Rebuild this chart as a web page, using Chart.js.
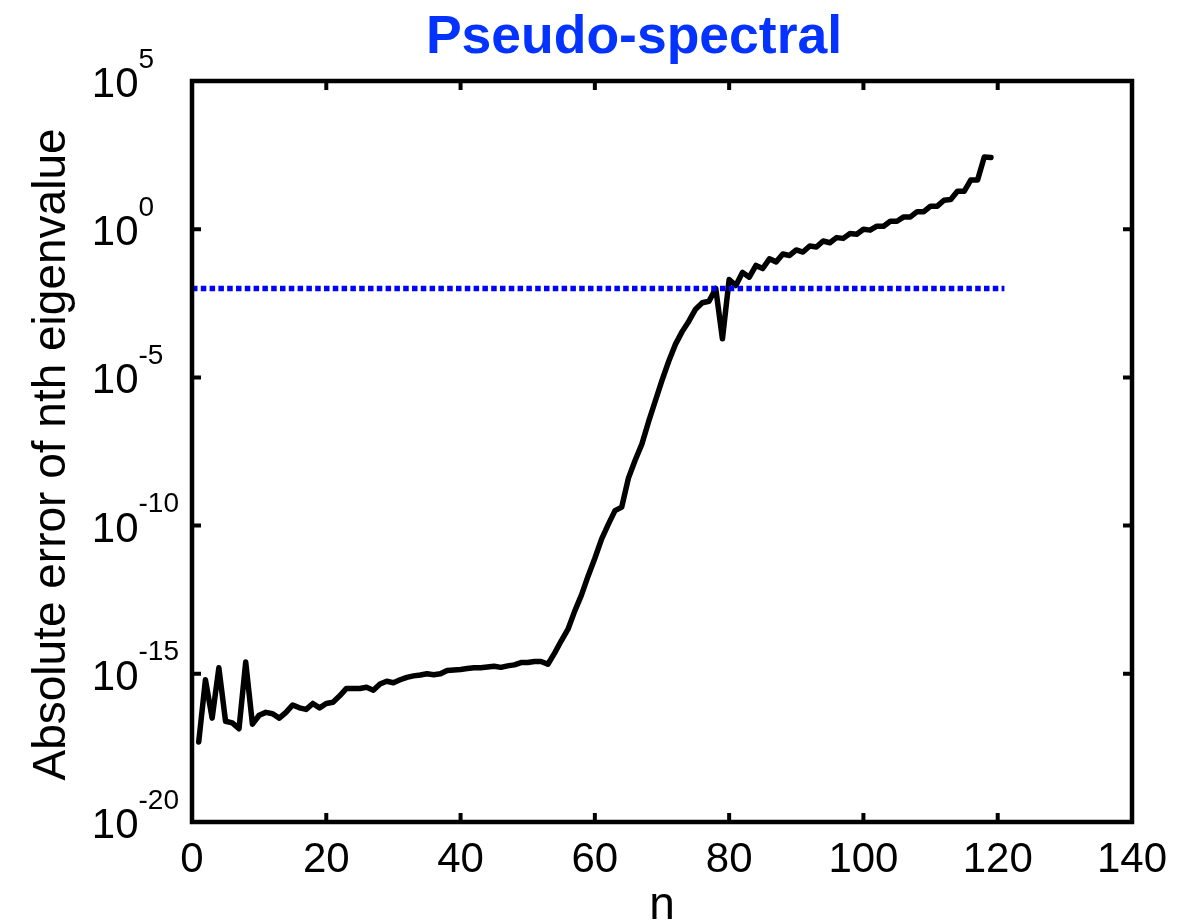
<!DOCTYPE html>
<html>
<head>
<meta charset="utf-8">
<script src="https://cdn.jsdelivr.net/npm/chart.js@4/dist/chart.umd.min.js"></script>
<style>
html,body{margin:0;padding:0;background:#fff;}
#wrap{position:relative;width:1201px;height:923px;}
</style>
</head>
<body>
<div id="wrap"><canvas id="c"></canvas></div>
<script>
// ---- data ----
const titleText = 'Pseudo-spectral';
const xAxisLabel = 'n';
const yAxisLabel = 'Absolute error of nth eigenvalue';
const xTicks = [0, 20, 40, 60, 80, 100, 120, 140];
const yTicks = [1e-20, 1e-15, 1e-10, 1e-5, 1e0, 1e5];
const yTickExponents = ['-20', '-15', '-10', '-5', '0', '5'];
const nValues = Array.from({length: 119}, (_, i) => i + 1);
const errorValues = [
  5.0e-18, 6.3e-16, 3.2e-17, 1.6e-15, 2.5e-17, 2.2e-17, 1.4e-17, 2.5e-15, 2.0e-17, 4.0e-17,
  5.0e-17, 4.5e-17, 3.2e-17, 5.0e-17, 8.9e-17, 7.1e-17, 6.3e-17, 1.0e-16, 7.1e-17, 1.0e-16,
  1.1e-16, 1.8e-16, 3.2e-16, 3.2e-16, 3.2e-16, 3.5e-16, 2.8e-16, 4.5e-16, 5.6e-16, 5.0e-16,
  6.3e-16, 7.6e-16, 8.5e-16, 9.1e-16, 1.0e-15, 9.3e-16, 1.0e-15, 1.3e-15, 1.35e-15, 1.4e-15,
  1.5e-15, 1.6e-15, 1.6e-15, 1.7e-15, 1.8e-15, 1.65e-15, 1.85e-15, 2.0e-15, 2.4e-15, 2.4e-15,
  2.6e-15, 2.6e-15, 2.1e-15, 5.0e-15, 1.3e-14, 3.2e-14, 1.3e-13, 4.5e-13, 2.0e-12, 7.9e-12,
  3.5e-11, 1.1e-10, 3.2e-10, 4.2e-10, 4.0e-9, 1.6e-8, 5.6e-8, 3.2e-7, 1.6e-6, 7.9e-6,
  3.5e-5, 1.3e-4, 3.5e-4, 7.9e-4, 2.0e-3, 3.3e-3, 3.7e-3, 1.0e-2, 2.0e-4, 2.0e-2,
  1.26e-2, 3.5e-2, 2.4e-2, 6.0e-2, 4.7e-2, 0.10, 0.079, 0.145, 0.13, 0.20,
  0.17, 0.27, 0.25, 0.40, 0.35, 0.52, 0.49, 0.71, 0.68, 1.0,
  0.93, 1.26, 1.26, 1.86, 1.86, 2.6, 2.6, 3.9, 3.9, 6.0,
  6.0, 9.5, 10, 19, 19, 46, 46, 275, 263
];
const thresholdX = [0, 121];
const thresholdY = [1e-2, 1e-2];

// ---- chart ----
const FONT = '"Liberation Sans", Arial, Helvetica, sans-serif';

const framePlugin = {
  id: 'framePlugin',
  afterDraw(chart) {
    const ctx = chart.ctx;
    const a = chart.chartArea;
    const xs = chart.scales.x, ys = chart.scales.y;
    ctx.save();
    // frame
    ctx.strokeStyle = '#000';
    ctx.lineWidth = 4.5;
    ctx.lineJoin = 'miter';
    ctx.strokeRect(a.left, a.top, a.right - a.left, a.bottom - a.top);
    // inward ticks
    ctx.lineWidth = 4;
    const tl = 9;
    ctx.beginPath();
    xTicks.forEach(v => {
      const px = xs.getPixelForValue(v);
      ctx.moveTo(px, a.bottom); ctx.lineTo(px, a.bottom - tl);
      ctx.moveTo(px, a.top); ctx.lineTo(px, a.top + tl);
    });
    yTicks.forEach(v => {
      const py = ys.getPixelForValue(v);
      ctx.moveTo(a.left, py); ctx.lineTo(a.left + tl, py);
      ctx.moveTo(a.right, py); ctx.lineTo(a.right - tl, py);
    });
    ctx.stroke();
    // x tick labels
    ctx.fillStyle = '#000';
    ctx.font = '42px ' + FONT;
    ctx.textAlign = 'center';
    ctx.textBaseline = 'alphabetic';
    xTicks.forEach(v => {
      ctx.fillText(String(v), xs.getPixelForValue(v), 872);
    });
    // y tick labels 10^k
    yTicks.forEach((v, i) => {
      const py = ys.getPixelForValue(v);
      ctx.font = '42px ' + FONT;
      ctx.textAlign = 'right';
      ctx.fillText('10', 138.5, py + 16);
      ctx.font = '28px ' + FONT;
      ctx.textAlign = 'left';
      ctx.fillText(yTickExponents[i], 138.5, py - 13.5);
    });
    // x axis label
    ctx.font = '46px ' + FONT;
    ctx.textAlign = 'center';
    ctx.fillText(xAxisLabel, (a.left + a.right) / 2, 919);
    // y axis label
    ctx.save();
    ctx.translate(65, (a.top + a.bottom) / 2 + 3);
    ctx.rotate(-Math.PI / 2);
    ctx.textAlign = 'center';
    ctx.textBaseline = 'alphabetic';
    ctx.font = '46px ' + FONT;
    ctx.fillText(yAxisLabel, 0, 0);
    ctx.restore();
    // title
    ctx.font = 'bold 53.5px ' + FONT;
    ctx.fillStyle = '#0433ff';
    ctx.textAlign = 'center';
    ctx.fillText(titleText, 634, 53);
    ctx.restore();
  }
};

new Chart(document.getElementById('c'), {
  type: 'line',
  data: {
    datasets: [
      {
        label: 'threshold',
        data: thresholdX.map((x, i) => ({x: x, y: thresholdY[i]})),
        borderColor: '#0000ff',
        borderWidth: 5.5,
        borderDash: [5.5, 3.3],
        pointRadius: 0,
        fill: false
      },
      {
        label: 'error',
        data: nValues.map((n, i) => ({x: n, y: errorValues[i]})),
        borderColor: '#000000',
        borderWidth: 5.5,
        borderJoinStyle: 'round',
        borderCapStyle: 'round',
        pointRadius: 0,
        tension: 0,
        fill: false
      }
    ]
  },
  options: {
    responsive: true,
    maintainAspectRatio: false,
    animation: false,
    layout: {padding: {left: 0, right: 69, top: 81, bottom: 0}},
    plugins: {legend: {display: false}, tooltip: {enabled: false}, title: {display: false}},
    scales: {
      x: {
        type: 'linear', min: 0, max: 140,
        grid: {display: false, drawTicks: false},
        border: {display: false},
        ticks: {display: false},
        afterFit(s) { s.height = 923 - 822; }
      },
      y: {
        type: 'logarithmic', min: 1e-20, max: 1e5,
        grid: {display: false, drawTicks: false},
        border: {display: false},
        ticks: {display: false},
        afterFit(s) { s.width = 192; }
      }
    }
  },
  plugins: [framePlugin]
});
</script>
</body>
</html>
